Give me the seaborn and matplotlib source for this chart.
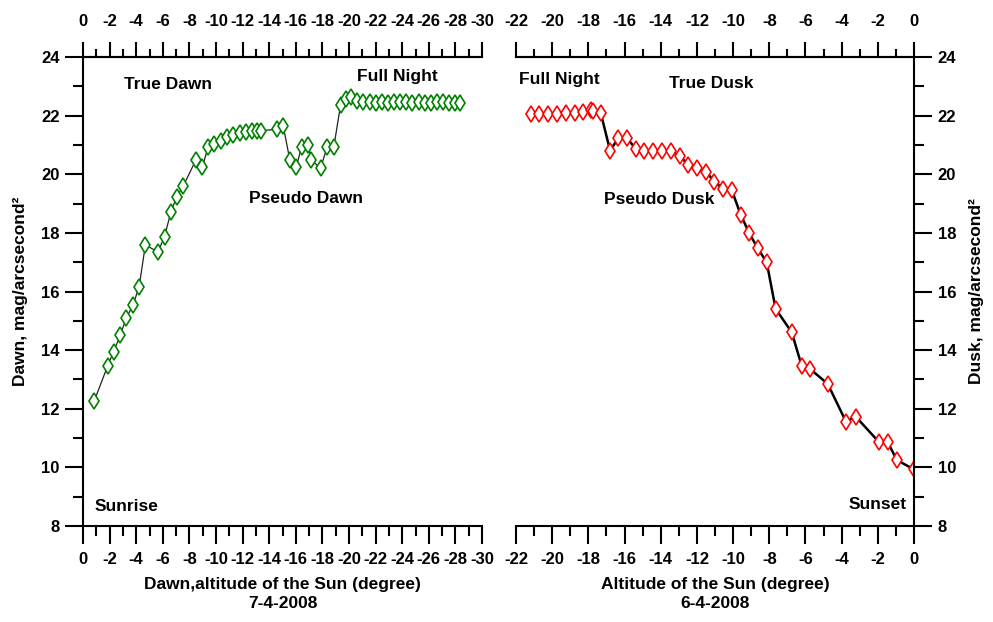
import matplotlib
matplotlib.use("Agg")
import matplotlib.pyplot as plt
from matplotlib.ticker import MultipleLocator, FuncFormatter
import seaborn as sns
import pandas as pd

# Dawn, 7-4-2008: altitude of the Sun (deg) and sky brightness (mag/arcsec^2)
dawn_alt = [-0.85, -1.86, -2.31, -2.79, -3.26, -3.75, -4.22, -4.69, -5.63, -6.13,
            -6.61, -7.06, -7.54, -8.49, -8.97, -9.40, -9.87, -10.35, -10.83, -11.30,
            -11.79, -12.25, -12.70, -13.11, -13.41, -14.60, -15.05, -15.55, -16.03, -16.43,
            -16.93, -17.16, -17.86, -18.36, -18.86, -19.37, -19.74, -20.17, -20.63, -21.09,
            -21.55, -22.01, -22.47, -22.93, -23.39, -23.85, -24.31, -24.77, -25.23, -25.69,
            -26.15, -26.61, -27.07, -27.53, -27.99, -28.36]
dawn_mag = [12.27, 13.47, 13.95, 14.50, 15.10, 15.53, 16.16, 17.59, 17.35, 17.87,
            18.72, 19.24, 19.60, 20.49, 20.24, 20.92, 21.03, 21.15, 21.26, 21.34,
            21.42, 21.44, 21.46, 21.48, 21.49, 21.53, 21.66, 20.49, 20.24, 20.92,
            21.00, 20.49, 20.20, 20.94, 20.94, 22.37, 22.56, 22.65, 22.50, 22.45,
            22.48, 22.44, 22.46, 22.44, 22.45, 22.46, 22.47, 22.44, 22.48, 22.42,
            22.44, 22.46, 22.45, 22.43, 22.44, 22.42]

# Dusk, 6-4-2008
dusk_alt = [-21.17, -20.71, -20.21, -19.72, -19.24, -18.74, -18.28, -17.87, -17.76, -17.32,
            -16.80, -16.34, -15.86, -15.37, -14.91, -14.41, -13.91, -13.43, -12.93, -12.47,
            -11.98, -11.50, -11.04, -10.54, -10.08, -9.58, -9.10, -8.64, -8.14, -7.65,
            -6.76, -6.21, -5.75, -4.77, -3.76, -3.22, -1.93, -1.45, -0.95, 0.00]
dusk_mag = [22.06, 22.06, 22.07, 22.07, 22.08, 22.10, 22.12, 22.20, 22.15, 22.10,
            20.81, 21.23, 21.23, 20.86, 20.80, 20.80, 20.80, 20.80, 20.61, 20.32,
            20.20, 20.09, 19.75, 19.50, 19.47, 18.62, 17.98, 17.48, 16.99, 15.41,
            14.61, 13.47, 13.36, 12.85, 11.56, 11.73, 10.86, 10.86, 10.25, 9.93]

dawn = pd.DataFrame({"alt": dawn_alt, "mag": dawn_mag})
dusk = pd.DataFrame({"alt": dusk_alt, "mag": dusk_mag})

sns.set_style("ticks")
plt.rcParams["font.family"] = ["Liberation Sans", "DejaVu Sans"]
plt.rcParams["font.weight"] = "bold"
for key in ("text.color", "axes.labelcolor", "xtick.color", "ytick.color", "axes.edgecolor"):
    plt.rcParams[key] = "black"
FS = 12.5      # labels and annotations
TS = 12        # tick labels

fig = plt.figure(figsize=(9.93, 6.22), dpi=100)
ax1 = fig.add_axes([83 / 993, 1 - 526 / 622, 399 / 993, 469 / 622])
ax2 = fig.add_axes([516 / 993, 1 - 526 / 622, 398 / 993, 469 / 622])

sns.lineplot(data=dawn, x="alt", y="mag", ax=ax1, sort=False, estimator=None,
             color="#222222", linewidth=0.9, marker="d", markersize=8,
             markerfacecolor="white", markeredgecolor="#008000", markeredgewidth=1.2)
sns.lineplot(data=dusk, x="alt", y="mag", ax=ax2, sort=False, estimator=None,
             color="black", linewidth=1.8, marker="d", markersize=8.5,
             markerfacecolor="white", markeredgecolor="#ff0000", markeredgewidth=1.2)

fmt = FuncFormatter(lambda v, p: f"{int(round(v))}")


def style_ticks(axis_obj):
    axis_obj.set_major_locator(MultipleLocator(2))
    axis_obj.set_minor_locator(MultipleLocator(1))
    axis_obj.set_major_formatter(fmt)


for ax in (ax1, ax2):
    ax.set_ylim(8, 24)
    style_ticks(ax.yaxis)
    style_ticks(ax.xaxis)
    ax.tick_params(which="major", length=13, width=1.5, labelsize=TS, direction="out")
    ax.tick_params(which="minor", length=7, width=1.5, direction="out")
    ax.tick_params(axis="x", which="both", top=False, bottom=True,
                   labeltop=False, labelbottom=True, pad=6)
    for s in ax.spines.values():
        s.set_linewidth(1.5)
        s.set_color("black")

# Left panel: dawn, 0 on the left going down to -30
ax1.set_xlim(0, -30)
ax1.spines["right"].set_visible(False)
ax1.tick_params(axis="y", which="both", left=True, right=False, labelleft=True, pad=4)
ax1.set_ylabel("Dawn, mag/arcsecond²", fontsize=FS, fontweight="bold", labelpad=9)
ax1.set_xlabel("Dawn,altitude of the Sun (degree)\n7-4-2008", fontsize=FS,
               fontweight="bold", labelpad=7, linespacing=1.35)

# Right panel: dusk, -22 on the left up to 0
ax2.set_xlim(-22, 0)
ax2.spines["left"].set_visible(False)
ax2.yaxis.tick_right()
ax2.yaxis.set_label_position("right")
ax2.tick_params(axis="y", which="both", left=False, right=True, labelright=True, pad=4)
ax2.set_ylabel("Dusk, mag/arcsecond²", fontsize=FS, fontweight="bold", labelpad=9)
ax2.set_xlabel("Altitude of the Sun (degree)\n6-4-2008", fontsize=FS,
               fontweight="bold", labelpad=7, linespacing=1.35)

# Mirrored altitude scale along the top of each panel
for ax in (ax1, ax2):
    top = ax.secondary_xaxis("top")
    style_ticks(top.xaxis)
    top.tick_params(which="major", length=11, width=1.5, labelsize=TS,
                    direction="out", pad=9)
    top.tick_params(which="minor", length=6, width=1.5, direction="out")
    top.spines["top"].set_linewidth(1.5)
    for lab in top.get_xticklabels():
        lab.set_fontweight("bold")

for ax in (ax1, ax2):
    for lab in ax.get_xticklabels() + ax.get_yticklabels():
        lab.set_fontweight("bold")

kw = dict(fontsize=FS, fontweight="bold", ha="center", va="center")
ax1.text(-6.4, 23.05, "True Dawn", **kw)
ax1.text(-23.6, 23.32, "Full Night", **kw)
ax1.text(-16.8, 19.16, "Pseudo Dawn", **kw)
ax1.text(-3.24, 8.65, "Sunrise", **kw)
ax2.text(-19.62, 23.22, "Full Night", **kw)
ax2.text(-11.22, 23.08, "True Dusk", **kw)
ax2.text(-14.1, 19.13, "Pseudo Dusk", **kw)
ax2.text(-1.99, 8.72, "Sunset", **kw)

fig.savefig("out.png", dpi=100)
